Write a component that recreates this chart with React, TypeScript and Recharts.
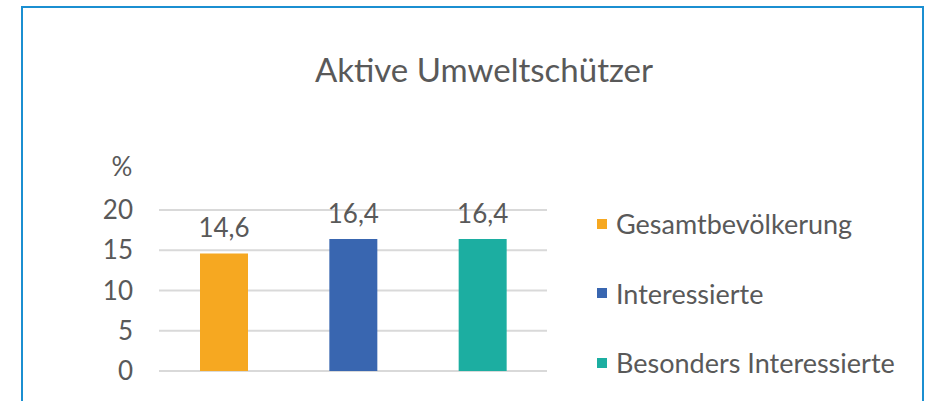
import React from 'react';
import { BarChart, Bar, XAxis, YAxis, CartesianGrid, Cell, LabelList } from 'recharts';

const groups = ['Gesamtbevölkerung', 'Interessierte', 'Besonders Interessierte'];
const shares = [14.6, 16.4, 16.4];
const colors = ['#F6A821', '#3966B0', '#1CAEA1'];
const yTicks = [0, 5, 10, 15, 20];

const TEXT = '#595959';
const FONT = 'Lato, "Open Sans", sans-serif';

const data = groups.map((name, i) => ({ name, value: shares[i] }));

const fmt = (v: number) => v.toFixed(1).replace('.', ',');

// legend sits to the right of the plot, one row per group
const LegendBox = () => (
  <div style={{ position: 'absolute', left: 597, top: 189, fontFamily: FONT, color: TEXT, fontSize: 27 }}>
    {groups.map((g, i) => (
      <div key={g} style={{ display: 'flex', alignItems: 'center', height: 69.5 }}>
        <span style={{ width: 10, height: 10, background: colors[i], marginRight: 9, display: 'inline-block' }} />
        <span>{g}</span>
      </div>
    ))}
  </div>
);

export default function App() {
  return (
    <div style={{ position: 'absolute', left: 0, top: 0, width: 933, height: 401, overflow: 'hidden', background: '#fff' }}>
      <div style={{ position: 'absolute', left: 21, top: 6, width: 903, height: 440, border: '2px solid #1B8FD1', boxSizing: 'border-box' }} />
      <div style={{ position: 'absolute', left: 234, top: 49, width: 500, textAlign: 'center', fontFamily: FONT, fontSize: 33, lineHeight: '40px', color: TEXT }}>
        Aktive Umweltschützer
      </div>
      <div style={{ position: 'absolute', left: 102, top: 151, width: 40, textAlign: 'center', fontFamily: FONT, fontSize: 26, lineHeight: '31px', color: TEXT }}>
        %
      </div>
      <div style={{ position: 'absolute', left: 0, top: 0 }}>
        <BarChart
          width={933}
          height={401}
          data={data}
          margin={{ top: 210, right: 386, bottom: 30, left: 0 }}
          barSize={48}
        >
          <CartesianGrid vertical={false} stroke="#D9D9D9" strokeWidth={2} />
          <XAxis dataKey="name" hide />
          <YAxis
            width={159}
            domain={[0, 20]}
            ticks={yTicks}
            axisLine={false}
            tickLine={false}
            tickSize={0}
            tickMargin={26}
            tick={{ fill: TEXT, fontSize: 26, fontFamily: FONT }}
          />
          <Bar dataKey="value" isAnimationActive={false}>
            {data.map((d, i) => (
              <Cell key={d.name} fill={colors[i]} />
            ))}
            <LabelList
              dataKey="value"
              position="top"
              offset={16}
              formatter={(v: any) => fmt(Number(v))}
              style={{ fill: TEXT, fontSize: 26, fontFamily: FONT }}
            />
          </Bar>
        </BarChart>
      </div>
      <LegendBox />
    </div>
  );
}
